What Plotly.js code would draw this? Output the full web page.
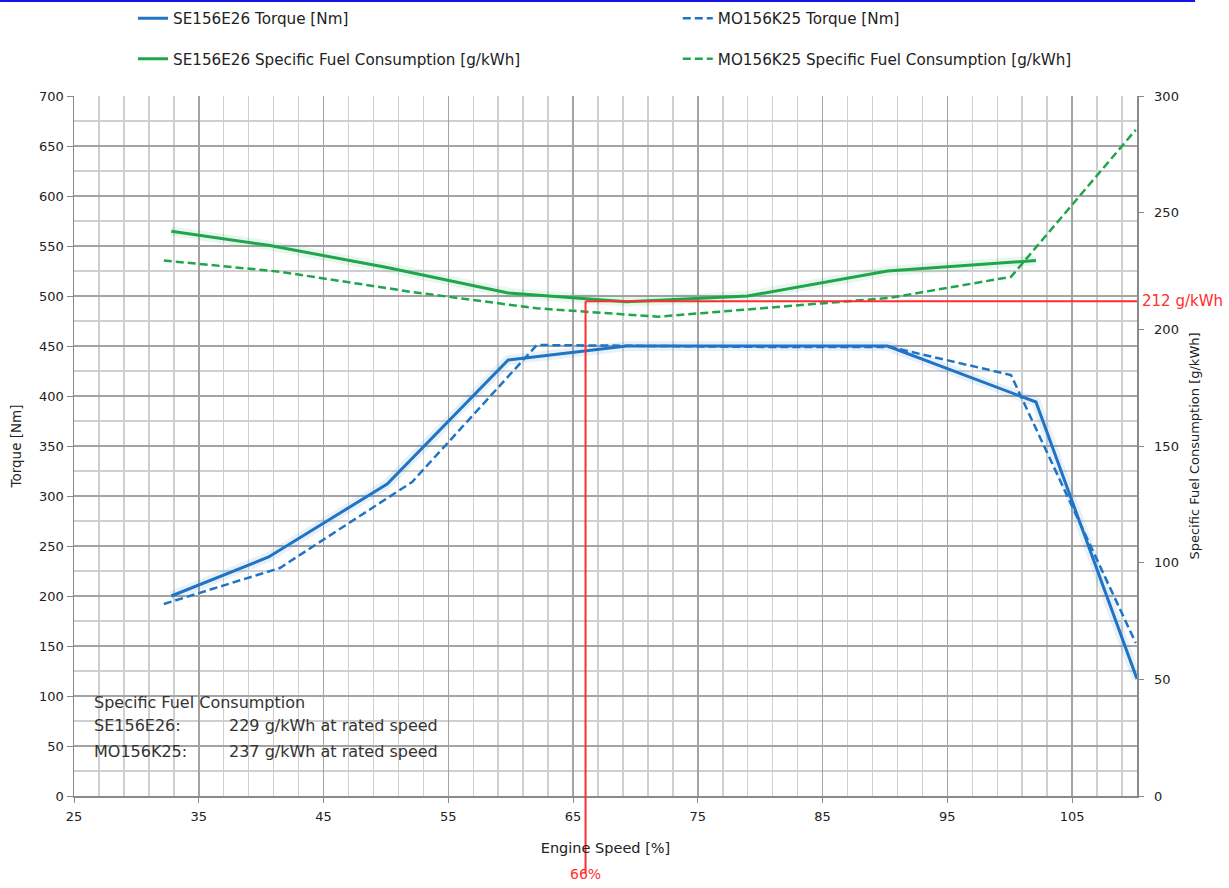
<!DOCTYPE html>
<html><head><meta charset="utf-8">
<script src="https://cdn.plot.ly/plotly-3.0.1.min.js"></script>
<style>html,body{margin:0;padding:0;background:#fff}#chart{width:1229px;height:888px}</style>
</head><body><div id="chart"></div>
<script>
// ---- data ----
const seSpeed  = [32.8, 40.6, 50.1, 59.8, 69.3, 79.0, 90.2, 102.1, 110.2];
const seTorque = [200, 239, 312, 436, 450, 450, 450, 394, 117];
const seSfc    = [242, 236, 226.5, 215.6, 211.8, 214.3, 225, 229.5, null];

const moSpeed  = [32.2, 41.5, 52.1, 62.1, 71.8, 81.2, 90.4, 100.1, 110.1];
const moTorque = [192, 228, 314, 451, 450, 449, 449, 421, 153];
const moSfc    = [229.5, 224.7, 216, 209, 205.4, 209.5, 213.5, 222.5, 285.5];

const seriesNames = ['SE156E26 Torque [Nm]', 'MO156K25 Torque [Nm]',
  'SE156E26 Specific Fuel Consumption [g/kWh]', 'MO156K25 Specific Fuel Consumption [g/kWh]'];

const minSfcSpeed = 66;      // %
const minSfcValue = 212;     // g/kWh
const speedRange = [25, 110.2];
const torqueRange = [0, 700];
const sfcRange = [0, 300];
const noteLines = ['Specific Fuel Consumption', 'SE156E26:', 'MO156K25:'];
const noteValues = ['229 g/kWh at rated speed', '237 g/kWh at rated speed'];

// ---- styling ----
const BLUE = '#1f74c4', GREEN = '#1fa64c', RED = '#ff2d2d';
const FONT = 'DejaVu Sans, Liberation Sans, sans-serif';
const GRID = '#a4a4a4', MINOR = '#cfcfcf', AX = '#8a8a8a';

const glow = (x, y, color, yaxis) => ({x: x, y: y, mode: 'lines', yaxis: yaxis, showlegend: false,
  hoverinfo: 'skip', line: {color: color, width: 10}});

const traces = [
  glow(seSpeed, seTorque, 'rgba(31,116,196,0.10)', 'y'),
  {x: seSpeed, y: seTorque, name: seriesNames[0], mode: 'lines', legend: 'legend',
   line: {color: BLUE, width: 3}},
  {x: moSpeed, y: moTorque, name: seriesNames[1], mode: 'lines', legend: 'legend2',
   line: {color: BLUE, width: 2.5, dash: '8px,4px'}},
  glow(seSpeed, seSfc, 'rgba(31,166,76,0.10)', 'y2'),
  {x: seSpeed, y: seSfc, name: seriesNames[2], mode: 'lines', yaxis: 'y2', legend: 'legend3',
   line: {color: GREEN, width: 3}},
  {x: moSpeed, y: moSfc, name: seriesNames[3], mode: 'lines', yaxis: 'y2', legend: 'legend4',
   line: {color: GREEN, width: 2.5, dash: '8px,4px'}}
];

function leg(x, y) {
  return {orientation: 'h', xanchor: 'left', yanchor: 'middle', x: x, y: y,
    bgcolor: 'rgba(0,0,0,0)', font: {family: FONT, size: 15.2, color: '#222'}};
}

const noteFont = {size: 16, color: '#333'};

const layout = {
  width: 1229, height: 888,
  margin: {l: 74, r: 92, t: 96, b: 92, autoexpand: false},
  paper_bgcolor: '#fff', plot_bgcolor: '#fff',
  font: {family: FONT, size: 13, color: '#222'},
  showlegend: true,
  legend: leg(0.0555, 1.111),
  legend2: leg(0.568, 1.111),
  legend3: leg(0.0555, 1.053),
  legend4: leg(0.568, 1.053),
  xaxis: {range: speedRange, tick0: 25, dtick: 10, showgrid: true, gridcolor: GRID, gridwidth: 1.5,
    minor: {tick0: 25, dtick: 2, showgrid: true, gridcolor: MINOR, gridwidth: 1.5},
    ticks: 'outside', ticklen: 5, tickcolor: AX, showline: true, linecolor: AX, linewidth: 1.5,
    zeroline: false, tickfont: {size: 13}, ticklabelstandoff: 3,
    title: {text: 'Engine Speed [%]', standoff: 20, font: {size: 14.5}}},
  yaxis: {range: torqueRange, dtick: 50, showgrid: true, gridcolor: GRID, gridwidth: 1.5,
    minor: {dtick: 25, showgrid: true, gridcolor: MINOR, gridwidth: 1.5},
    ticks: 'outside', ticklen: 6, tickcolor: AX, showline: true, linecolor: AX, linewidth: 1.5,
    zeroline: false, tickfont: {size: 13},
    title: {text: 'Torque [Nm]', standoff: 14, font: {size: 13.5}}},
  yaxis2: {range: sfcRange, dtick: 50, overlaying: 'y', side: 'right', showgrid: false,
    ticks: 'outside', ticklen: 5, tickcolor: AX, showline: true, linecolor: AX, linewidth: 1.5,
    zeroline: false, tickfont: {size: 13}, ticklabelstandoff: 8,
    title: {text: 'Specific Fuel Consumption [g/kWh]', standoff: 12, font: {size: 13}}},
  shapes: [
    {type: 'line', xref: 'x', yref: 'y2', x0: minSfcSpeed, x1: minSfcSpeed, y0: 0, y1: minSfcValue,
     line: {color: RED, width: 2}},
    {type: 'line', xref: 'x', yref: 'paper', x0: minSfcSpeed, x1: minSfcSpeed, y0: -0.11, y1: 0,
     line: {color: RED, width: 2}},
    {type: 'line', xref: 'x', yref: 'y2', x0: minSfcSpeed, x1: speedRange[1], y0: minSfcValue, y1: minSfcValue,
     line: {color: RED, width: 2}},
    {type: 'line', xref: 'paper', yref: 'paper', x0: -0.0696, x1: 1.0546, y0: 1.1357, y1: 1.1357,
     line: {color: '#1414e6', width: 2}}
  ],
  annotations: [
    {xref: 'paper', yref: 'y2', x: 1, y: minSfcValue, xanchor: 'left', yanchor: 'middle', xshift: 3,
     text: minSfcValue + ' g/kWh', showarrow: false, font: {color: RED, size: 15}},
    {xref: 'x', yref: 'paper', x: minSfcSpeed, y: -0.097, xanchor: 'center', yanchor: 'top',
     text: minSfcSpeed + '%', showarrow: false, font: {color: RED, size: 14}},
    {xref: 'paper', yref: 'paper', x: 0.0169, y: 0.134, xanchor: 'left', yanchor: 'middle',
     text: noteLines[0], showarrow: false, font: noteFont},
    {xref: 'paper', yref: 'paper', x: 0.0169, y: 0.101, xanchor: 'left', yanchor: 'middle',
     text: noteLines[1], showarrow: false, font: noteFont},
    {xref: 'paper', yref: 'paper', x: 0.0169, y: 0.064, xanchor: 'left', yanchor: 'middle',
     text: noteLines[2], showarrow: false, font: noteFont},
    {xref: 'paper', yref: 'paper', x: 0.144, y: 0.101, xanchor: 'left', yanchor: 'middle',
     text: noteValues[0], showarrow: false, font: noteFont},
    {xref: 'paper', yref: 'paper', x: 0.144, y: 0.064, xanchor: 'left', yanchor: 'middle',
     text: noteValues[1], showarrow: false, font: noteFont}
  ]
};

Plotly.newPlot('chart', traces, layout, {displayModeBar: false, staticPlot: true});
</script>
</body></html>
